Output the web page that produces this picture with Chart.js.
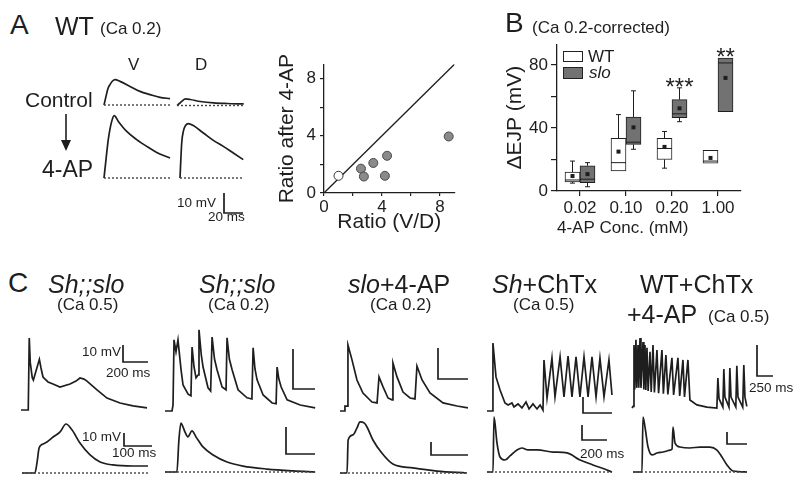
<!DOCTYPE html>
<html>
<head>
<meta charset="utf-8">
<script src="https://cdn.jsdelivr.net/npm/chart.js@4"></script>
<style>
  body { margin: 0; background: #fff; }
  #fig { position: relative; width: 800px; height: 483px; overflow: hidden;
         font-family: "Liberation Sans", Arial, sans-serif; color: #1e1e1e; }
  #fig canvas { position: absolute; }
  .t { position: absolute; white-space: nowrap; line-height: 1; }
  .sw { position: absolute; border: 1px solid #222; box-sizing: border-box; }
</style>
</head>
<body>
<div id="fig"></div>
<script>
// ---- Panel A: example EJPs, [ms, mV] relative to baseline ----
const aVctl = [[0,0],[2.1,4.3],[4,8],[6.3,10.2],[9,12],[11.6,12.7],[16.8,11.8],[27.4,9.3],[37.9,6.8],[48.4,5.2],[58.9,3.8],[69.5,3.2]];
const aDctl = [[0,0],[2.5,1],[5.3,2.2],[8.8,3.3],[14,3],[24.6,2],[38.6,1.3],[52.6,1],[70.2,0.8]];
const aV4ap = [[0,0],[2.1,9.2],[4.5,19.2],[8.1,28.3],[10.8,31.2],[15.1,28.3],[23.9,23.3],[34.4,19.2],[45,15.8],[55.5,12.8],[69.5,10]];
const aD4ap = [[0,0],[1.8,17.5],[3.5,23.3],[8.8,27.2],[14,26.2],[24.6,22.5],[35.1,18.8],[45.6,15.8],[56.1,12.5],[66.6,9.2]];
const aBaseMs = [69.5, 70, 69.5, 66];
const aBar = { mv: 10, ms: 20 };

// ---- Panel A: V/D ratio scatter ----
const openRatio = [1.0];
const openAfter = [1.2];
const filledRatio = [2.55, 2.75, 3.4, 4.2, 4.35, 8.6];
const filledAfter = [1.7, 1.15, 2.1, 1.2, 2.6, 3.95];
const identity = [0, 9];
const ratioTicks = [0, 2, 4, 6, 8];

// ---- Panel B: ΔEJP box plots ----
const concLabels = ['0.02', '0.10', '0.20', '1.00'];
const wtQ1 = [5.7, 12.8, 20, 17.6];
const wtQ3 = [12, 33.4, 33.4, 25.8];
const wtMed = [7, 18, 27, 19];
const wtMean = [9.5, 25, 28, 21];
const wtLo = [5, 12.8, 14.5, 17.6];
const wtHi = [19, 48.5, 37.8, 25.8];
const sloQ1 = [5.3, 29.6, 46.6, 50.4];
const sloQ3 = [16, 47, 58, 84.4];
const sloMed = [7.5, 31, 49, 81.3];
const sloMean = [10.7, 40.4, 52.5, 71.8];
const sloLo = [2.7, 26.5, 44, 50.4];
const sloHi = [18, 63.6, 65.5, 84.4];
const sloSig = ['', '', '***', '**'];
const ejpTicks = [0, 20, 40, 60, 80];

// ---- Panel C: firing patterns, [ms, mV] ----
const c1Top = [[0,0],[58,0],[66,42.4],[74,28],[90,19],[99,17.6],[120,23],[147,29.8],[160,24.7],[176,19.4],[216,16.5],[256,15.3],[312,13.5],[392,15.3],[440,17],[472,18.8],[504,18.2],[528,17],[608,11.8],[688,7],[792,4.1],[896,2.4],[1008,1.2]];
const c1Bot = [[0,0],[46,0],[54,8.5],[61,19.2],[75,22.3],[89,23.8],[111,27.7],[136,31.6],[157,37.7],[179,33],[207,23],[243,13.9],[279,8.5],[325,6.2],[396,5.4],[450,5.4]];
const c2Top = [[0,0],[64,0],[73,1.5],[82,17.8],[100,14.8],[118,17.8],[146,10.3],[164,6.5],[210,4.2],[236,3.8],[246,16],[264,11],[282,8.3],[300,9],[309,20.3],[330,14],[346,11],[391,5.8],[415,5],[428,18.5],[450,13],[473,10.3],[519,6],[555,5.3],[564,18.3],[585,13],[610,10.3],[664,5.3],[746,3.3],[790,3],[801,15.8],[818,10.5],[837,7.8],[892,4],[974,2],[1010,1.8],[1019,11],[1035,8],[1056,6],[1110,2.8],[1229,1.5],[1365,0.8]];
const c2Bot = [[0,0],[41,0],[48,11.9],[55,18.1],[62,16.7],[69,14.8],[79,13],[93,15.2],[107,13],[131,9.3],[166,6.3],[214,3.7],[269,2.2],[352,1.1],[442,0.4],[518,0]];
const c3Top = [[0,0],[33,0],[33,1.6],[47,1.6],[53,21.3],[80,16.5],[113,10],[153,5.8],[213,2.9],[247,2.6],[260,11],[287,7.8],[320,4.2],[347,3.6],[353,15.5],[380,11],[420,6.1],[467,4.2],[500,3.9],[513,14.5],[547,10],[600,5.8],[687,2.6],[780,1.6],[853,1]];
const c3Bot = [[0,0],[19,0],[22,25.4],[35,29.3],[46,34.7],[54,39.3],[65,38.5],[73,35.4],[89,25.4],[113,15.4],[143,6.9],[197,3.9],[262,1.5],[343,0]];
const c4Top = [[0,0],[41,0],[41,42.5],[62,21.3],[90,13.1],[124,5],[145,3.8],[172,5],[186,2.5],[214,4.4],[241,1.9],[269,5.6],[290,1.3],[317,4.4],[345,1.3],[366,3.8],[386,0.6],[393,31.9],[414,8.1],[448,33.1],[469,8.8],[504,33.8],[531,8.8],[559,34.4],[586,8.8],[614,33.8],[641,8.8],[669,33.8],[697,8.8],[724,33.8],[752,8.8],[779,33.1],[807,8.8],[841,31.9],[862,10]];
const c4Bot = [[0,0],[48,0],[56,36.7],[80,19.3],[104,10],[144,8],[184,10.7],[240,14.7],[280,16],[328,14.7],[400,14.7],[528,13.3],[640,12.7],[744,8],[848,4.7],[960,1.3],[1000,0]];
const c5Top = [[0,0],[16,0.5],[31,20.3],[42,6],[62,22],[74,6.5],[94,20.3],[106,6.5],[125,22.6],[140,6.5],[172,21.3],[185,6],[203,20.3],[216,5.8],[234,19.4],[252,5.5],[281,18.1],[300,5.2],[328,20.3],[350,5],[390,18.7],[415,4.8],[468,18.7],[490,4.6],[530,17.1],[560,4.4],[624,16.2],[650,4.2],[718,16.2],[745,3.9],[796,15.5],[820,3.6],[874,15.5],[905,2.6],[1014,1],[1170,0.3],[1326,0],[1342,9.7],[1360,3],[1420,0.3],[1435,12.6],[1452,3.5],[1515,0.3],[1529,12.9],[1547,3.5],[1622,0.3],[1638,13.6],[1656,3.5],[1730,0.3],[1747,13.9],[1765,3.5],[1794,0.5]];
const c5Bot = [[0,0],[112,0],[125,45.8],[150,37.5],[188,20.8],[238,14.2],[300,15.8],[375,16.7],[425,17.5],[462,18.3],[488,19.2],[500,37.5],[525,24.2],[588,20.8],[712,20],[838,20.8],[962,20.8],[1050,18.3],[1112,12.5],[1175,5.8],[1250,0.8],[1425,0]];
const cBaseMs = [450, 518, 343, 1000, 1425];
const cTopBar = [{ mv: 10, ms: 200 }, { mv: 10, ms: 200 }, { mv: 10, ms: 200 }, { mv: 10, ms: 200 }, { mv: 10, ms: 250 }];
const cBotBar = [{ mv: 10, ms: 100 }, { mv: 10, ms: 100 }, { mv: 10, ms: 100 }, { mv: 10, ms: 200 }, { mv: 10, ms: 250 }];

// ---- layout: trace origins (px) and scale (px per ms / px per mV) ----
const A = { pxMs: 0.95, pxMv: 2 };
const lay = {
    aVctl: { ox: 104, oy: 105, ...A }, aDctl: { ox: 177, oy: 105.5, ...A },
    aV4ap: { ox: 104, oy: 178, ...A }, aD4ap: { ox: 180, oy: 178, ...A },
    aBar: { ox: 224, oy: 213, ...A },
};
const cTopLay = [
    { ox: 21, oy: 410, pxMs: 0.125, pxMv: 1.7, bx: 123, by: 362 },
    { ox: 165, oy: 411, pxMs: 0.11, pxMv: 4.0, bx: 293, by: 389 },
    { ox: 340, oy: 411, pxMs: 0.15, pxMv: 3.1, bx: 438, by: 379 },
    { ox: 487, oy: 411, pxMs: 0.145, pxMv: 1.6, bx: 583, by: 413 },
    { ox: 632, oy: 408, pxMs: 0.064, pxMv: 3.1, bx: 757, by: 376 },
];
const cBotLay = [
    { ox: 22, oy: 473, pxMs: 0.28, pxMv: 1.3, bx: 124, by: 446 },
    { ox: 165, oy: 472, pxMs: 0.29, pxMv: 2.7, bx: 286, by: 454 },
    { ox: 340, oy: 473, pxMs: 0.37, pxMv: 1.3, bx: 431, by: 455 },
    { ox: 487, oy: 472, pxMs: 0.125, pxMv: 1.5, bx: 582, by: 440 },
    { ox: 633, oy: 472, pxMs: 0.08, pxMv: 1.2, bx: 727, by: 444 },
];

const INK = '#1e1e1e';
Chart.defaults.font.family = '"Liberation Sans", Arial, sans-serif';
Chart.defaults.color = INK;
Chart.defaults.animation = false;
Chart.defaults.events = [];
Chart.defaults.plugins.legend.display = false;
Chart.defaults.plugins.tooltip.enabled = false;

const fig = document.getElementById('fig');

function label(html, x, base, size, extra) {
    const d = document.createElement('div');
    d.className = 't';
    d.innerHTML = html;
    d.style.left = x + 'px';
    d.style.top = (base - 0.847 * size) + 'px';
    d.style.fontSize = size + 'px';
    if (extra) Object.assign(d.style, extra);
    fig.appendChild(d);
}

function makeCanvas(left, top, w, h) {
    const cv = document.createElement('canvas');
    cv.width = w; cv.height = h;
    cv.style.left = left + 'px'; cv.style.top = top + 'px';
    fig.appendChild(cv);
    return cv;
}

// one small chart per trace; canvas box follows the data extent
function traceChart(l, lines) {
    const px = [], py = [];
    lines.forEach(s => s.pts.forEach(([t, v]) => {
        px.push(l.ox + t * l.pxMs); py.push(l.oy - v * l.pxMv);
    }));
    const left = Math.floor(Math.min(...px)) - 4, right = Math.ceil(Math.max(...px)) + 4;
    const top = Math.floor(Math.min(...py)) - 4, bottom = Math.ceil(Math.max(...py)) + 4;
    const cv = makeCanvas(left, top, right - left, bottom - top);
    new Chart(cv, {
        type: 'line',
        data: { datasets: lines.map(s => ({
            data: s.pts.map(([x, y]) => ({ x, y })),
            borderColor: s.dash ? '#444' : INK,
            borderWidth: s.dash ? 1.4 : 1.7,
            borderDash: s.dash ? [2, 2] : [],
            pointRadius: 0,
            tension: 0,
            cubicInterpolationMode: s.smooth ? 'monotone' : 'default',
            fill: false,
            clip: false,
        })) },
        options: {
            responsive: false,
            maintainAspectRatio: false,
            layout: { padding: 0 },
            scales: {
                x: { type: 'linear', display: false, min: (left - l.ox) / l.pxMs, max: (right - l.ox) / l.pxMs },
                y: { type: 'linear', display: false, min: (l.oy - bottom) / l.pxMv, max: (l.oy - top) / l.pxMv },
            },
        },
    });
}

function scaleBar(l, bar, bx, by) {
    traceChart({ ox: bx, oy: by, pxMs: l.pxMs, pxMv: l.pxMv },
        [{ pts: [[0, bar.mv], [0, 0], [bar.ms, 0]] }]);
}

// ---------- Panel A traces ----------
[[aVctl, lay.aVctl], [aDctl, lay.aDctl], [aV4ap, lay.aV4ap], [aD4ap, lay.aD4ap]].forEach(([pts, l], i) => {
    traceChart(l, [{ pts: [[0, 0], [aBaseMs[i], 0]], dash: true }, { pts, smooth: true }]);
});
scaleBar(lay.aBar, aBar, lay.aBar.ox, lay.aBar.oy);

// ---------- Panel A scatter ----------
const axisCommon = (tickLen) => ({
    grid: { drawOnChartArea: false, tickLength: tickLen, color: INK, lineWidth: 1.2 },
    border: { color: INK, width: 1.3 },
});
new Chart(makeCanvas(271, 50, 194, 189), {
    type: 'scatter',
    data: { datasets: [
        { data: openRatio.map((x, i) => ({ x, y: openAfter[i] })), pointRadius: 4.5,
          backgroundColor: '#fff', borderColor: '#333', borderWidth: 1 },
        { data: filledRatio.map((x, i) => ({ x, y: filledAfter[i] })), pointRadius: 4.5,
          backgroundColor: '#8a8a8a', borderColor: '#4a4a4a', borderWidth: 1 },
        { type: 'line', data: identity.map(v => ({ x: v, y: v })), borderColor: INK,
          borderWidth: 1.3, pointRadius: 0 },
    ] },
    options: {
        responsive: false, maintainAspectRatio: false,
        layout: { padding: { top: 11.6, right: 10.5, left: 0, bottom: 0 } },
        scales: {
            x: { type: 'linear', min: 0, max: 9, ...axisCommon(3),
                 afterBuildTicks: s => { s.ticks = ratioTicks.map(v => ({ value: v })); },
                 ticks: { callback: v => v % 4 === 0 ? String(v) : '', padding: 1, maxRotation: 0, autoSkip: false, font: { size: 17 } },
                 title: { display: true, text: 'Ratio (V/D)', font: { size: 21 }, padding: { top: 0, bottom: 4 } },
                 afterFit: s => { s.height = 46; } },
            y: { type: 'linear', min: 0, max: 9, ...axisCommon(4),
                 afterBuildTicks: s => { s.ticks = ratioTicks.map(v => ({ value: v })); },
                 ticks: { callback: v => v % 4 === 0 ? String(v) : '', padding: 4, autoSkip: false, font: { size: 17 } },
                 title: { display: true, text: 'Ratio after 4-AP', font: { size: 21 }, padding: { top: 4, bottom: 0 } },
                 afterFit: s => { s.width = 53; } },
        },
    },
});

// ---------- Panel B box plots ----------
const boxExtras = {
    id: 'boxExtras',
    afterDatasetsDraw(chart) {
        const { ctx } = chart;
        const y = v => chart.scales.y.getPixelForValue(v);
        const groups = [
            { lo: wtLo, hi: wtHi, q1: wtQ1, q3: wtQ3, med: wtMed, mean: wtMean },
            { lo: sloLo, hi: sloHi, q1: sloQ1, q3: sloQ3, med: sloMed, mean: sloMean, sig: sloSig },
        ];
        ctx.save();
        ctx.strokeStyle = INK; ctx.fillStyle = INK; ctx.lineWidth = 1;
        const seg = (x1, y1, x2, y2) => { ctx.beginPath(); ctx.moveTo(x1, y1); ctx.lineTo(x2, y2); ctx.stroke(); };
        groups.forEach((g, di) => {
            chart.getDatasetMeta(di).data.forEach((bar, i) => {
                const x = bar.x, half = bar.width / 2;
                if (g.hi[i] > g.q3[i]) { seg(x, y(g.q3[i]), x, y(g.hi[i])); seg(x - 2.5, y(g.hi[i]), x + 2.5, y(g.hi[i])); }
                if (g.lo[i] < g.q1[i]) { seg(x, y(g.q1[i]), x, y(g.lo[i])); seg(x - 2.5, y(g.lo[i]), x + 2.5, y(g.lo[i])); }
                seg(x - half, y(g.med[i]), x + half, y(g.med[i]));
                ctx.fillRect(x - 2, y(g.mean[i]) - 2, 4, 4);
                if (g.sig && g.sig[i]) {
                    ctx.font = '24px "Liberation Sans", Arial, sans-serif';
                    ctx.textAlign = 'center'; ctx.textBaseline = 'alphabetic';
                    ctx.fillText(g.sig[i], x, y(Math.max(g.hi[i], g.q3[i])) + 7);
                }
            });
        });
        ctx.restore();
    },
};
new Chart(makeCanvas(499, 31, 256, 212), {
    type: 'bar',
    data: { labels: concLabels, datasets: [
        { label: 'WT', data: wtQ1.map((q, i) => [q, wtQ3[i]]), backgroundColor: '#fff',
          borderColor: INK, borderWidth: 1, borderSkipped: false, barThickness: 15 },
        { label: 'slo', data: sloQ1.map((q, i) => [q, sloQ3[i]]), backgroundColor: '#727272',
          borderColor: INK, borderWidth: 1, borderSkipped: false, barThickness: 15 },
    ] },
    options: {
        responsive: false, maintainAspectRatio: false,
        layout: { padding: { top: 12.3, right: 14, left: 0, bottom: 0 } },
        scales: {
            x: { offset: true,
                 grid: { offset: false, drawOnChartArea: false, tickLength: 5, color: INK, lineWidth: 1.2 },
                 border: { color: INK, width: 1.3 },
                 ticks: { padding: 2, maxRotation: 0, font: { size: 17 } },
                 title: { display: true, text: '4-AP Conc. (mM)', align: 'start', font: { size: 17 }, padding: { top: 0, bottom: 4 } },
                 afterFit: s => { s.height = 52; } },
            y: { min: 0, max: 93.2,
                 afterBuildTicks: s => { s.ticks = ejpTicks.map(v => ({ value: v })); },
                 grid: { drawOnChartArea: false, tickLength: 6, color: INK, lineWidth: 1.2 },
                 border: { color: INK, width: 1.3 },
                 ticks: { callback: v => v % 40 === 0 ? String(v) : '', padding: 3, autoSkip: false, font: { size: 17 } },
                 title: { display: true, text: 'ΔEJP (mV)', font: { size: 21 }, padding: { top: 4, bottom: 0 } },
                 afterFit: s => { s.width = 58; } },
        },
    },
    plugins: [boxExtras],
});

// ---------- Panel C traces ----------
const cTops = [c1Top, c2Top, c3Top, c4Top, c5Top];
const cBots = [c1Bot, c2Bot, c3Bot, c4Bot, c5Bot];
cTops.forEach((pts, i) => {
    const l = cTopLay[i];
    traceChart(l, [{ pts }]);
    scaleBar(l, cTopBar[i], l.bx, l.by);
});
cBots.forEach((pts, i) => {
    const l = cBotLay[i];
    traceChart(l, [{ pts: [[0, 0], [cBaseMs[i], 0]], dash: true }, { pts, smooth: true }]);
    scaleBar(l, cBotBar[i], l.bx, l.by);
});

// ---------- text ----------
label('A', 10, 35, 28);
label('WT', 55, 35, 25);
label('(Ca 0.2)', 100, 34, 17);
label('V', 128, 70, 17);
label('D', 195, 70, 17);
label('Control', 25, 107, 21);
label('4-AP', 42, 177, 23);
label('10 mV', 177, 207, 13.5);
label('20 ms', 208, 221, 13.5);

label('B', 505, 33, 28);
label('(Ca 0.2-corrected)', 532, 33, 17);
label('WT', 588, 62.5, 17);
label('<i>slo</i>', 589, 78, 17);

label('C', 8, 293, 28);
label('<i>Sh;;slo</i>', 48, 293, 25);
label('(Ca 0.5)', 57, 310, 17);
label('<i>Sh;;slo</i>', 199, 293, 25);
label('(Ca 0.2)', 208, 310, 17);
label('<i>slo</i>+4-AP', 348, 293, 25);
label('(Ca 0.2)', 370, 310, 17);
label('<i>Sh</i>+ChTx', 492, 293, 25);
label('(Ca 0.5)', 513, 310, 17);
label('WT+ChTx', 640, 293, 25);
label('+4-AP', 627, 323, 25);
label('(Ca 0.5)', 708, 322, 17);
label('10 mV', 82, 356, 13.5);
label('200 ms', 106, 377, 13.5);
label('10 mV', 82, 441, 13.5);
label('100 ms', 112, 457, 13.5);
label('200 ms', 580, 458, 13.5);
label('250 ms', 749, 392, 13.5);

// legend swatches for panel B
[['#fff', 51, 11], ['#727272', 67, 12]].forEach(([c, t, h]) => {
    const s = document.createElement('div');
    s.className = 'sw';
    Object.assign(s.style, { left: '563px', top: t + 'px', width: '20px', height: h + 'px', background: c });
    fig.appendChild(s);
});

// Control -> 4-AP arrow
fig.insertAdjacentHTML('beforeend',
    '<svg style="position:absolute;left:56px;top:110px" width="20" height="44">' +
    '<line x1="10" y1="4" x2="10" y2="32" stroke="#1e1e1e" stroke-width="1.6"/>' +
    '<polygon points="5,30 15,30 10,41" fill="#1e1e1e"/></svg>');
</script>
</body>
</html>
